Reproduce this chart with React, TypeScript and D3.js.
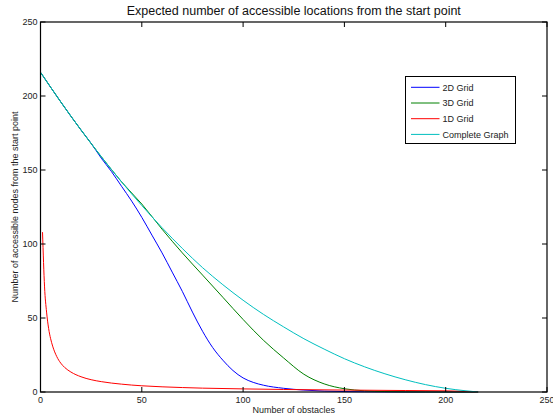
import { useEffect, useRef } from 'react';
import * as d3 from 'd3';

// values
const gridX2D = [0, 10, 20, 25, 30, 35, 40, 45, 50, 55, 60, 65, 70, 75, 80, 85, 90, 95, 100, 105, 110, 120, 130, 140, 150, 160, 170, 190, 216];
const gridY2D = [216, 196, 177, 168, 158, 149, 139, 129, 118, 106, 94, 81, 68, 54, 41, 30, 21.5, 14.5, 9.5, 6.5, 4.6, 2.5, 1.3, 0.6, 0.3, 0.15, 0.05, 0, 0];

const gridX3D = [0, 10, 20, 30, 40, 50, 60, 70, 80, 90, 100, 110, 120, 130, 140, 150, 160, 170, 180, 200, 216];
const gridY3D = [216, 196, 177, 159, 142, 127, 110, 94, 79, 64, 49, 35, 23, 12, 5.5, 2.2, 0.8, 0.3, 0.1, 0, 0];

const gridX1D = [1, 2, 3, 4, 5, 6, 8, 10, 12, 15, 20, 25, 30, 40, 50, 60, 70, 80, 100, 120, 150, 180, 200, 216];
const gridY1D = [108, 71, 54, 43, 36, 31, 24, 19.5, 16.5, 13.5, 10.3, 8.3, 7, 5.3, 4.2, 3.5, 3, 2.6, 2.1, 1.7, 1.3, 1, 0.8, 0];

const completeX = [0, 10, 20, 30, 40, 50, 60, 70, 80, 90, 100, 110, 120, 130, 140, 150, 160, 170, 180, 190, 200, 210, 216];
const completeY = [216, 196, 177, 159, 142, 126, 111, 97, 84, 72.5, 62, 52.5, 44, 36, 29, 22.5, 17, 12.3, 8.3, 5, 2.5, 0.8, 0];

const seriesNames = ['2D Grid', '3D Grid', '1D Grid', 'Complete Graph'];
const seriesColors = ['#0000ff', '#008000', '#ff0000', '#00bfbf'];
const xTicks = [0, 50, 100, 150, 200, 250];
const yTicks = [0, 50, 100, 150, 200, 250];

const App = () => {
	const ref = useRef<SVGSVGElement>(null);

	useEffect(() => {
		const svg = d3.select(ref.current);
		svg.selectAll('*').remove();

		const left = 40.5, right = 547, top = 22, bottom = 392;
		const x = d3.scaleLinear().domain([0, 250]).range([left, right]);
		const y = d3.scaleLinear().domain([0, 250]).range([bottom, top]);
		const font = '"Liberation Sans", Arial, sans-serif';

		svg.append('rect').attr('width', 553).attr('height', 419).attr('fill', '#fff');

		const series = [
			[gridX2D, gridY2D],
			[gridX3D, gridY3D],
			[gridX1D, gridY1D],
			[completeX, completeY],
		];

		const line = d3
			.line<[number, number]>()
			.x((d) => x(d[0]))
			.y((d) => y(d[1]))
			.curve(d3.curveMonotoneX);

		// curves
		series.forEach(([xs, ys], i) => {
			const pts = xs.map((v, j) => [v, ys[j]] as [number, number]);
			svg
				.append('path')
				.attr('d', line(pts))
				.attr('fill', 'none')
				.attr('stroke', seriesColors[i])
				.attr('stroke-width', 1);
		});

		// box + ticks
		svg
			.append('rect')
			.attr('x', left)
			.attr('y', top)
			.attr('width', right - left)
			.attr('height', bottom - top)
			.attr('fill', 'none')
			.attr('stroke', '#000')
			.attr('stroke-width', 1.2);

		const tickLen = 5;
		xTicks.forEach((t) => {
			svg.append('line').attr('x1', x(t)).attr('x2', x(t)).attr('y1', bottom).attr('y2', bottom - tickLen).attr('stroke', '#000');
			svg.append('line').attr('x1', x(t)).attr('x2', x(t)).attr('y1', top).attr('y2', top + tickLen).attr('stroke', '#000');
			svg
				.append('text')
				.attr('x', x(t))
				.attr('y', bottom + 11)
				.attr('text-anchor', 'middle')
				.style('font-family', font)
				.style('font-size', '9px')
				.attr('fill', '#222')
				.text(t);
		});
		yTicks.forEach((t) => {
			svg.append('line').attr('x1', left).attr('x2', left + tickLen).attr('y1', y(t)).attr('y2', y(t)).attr('stroke', '#000');
			svg.append('line').attr('x1', right).attr('x2', right - tickLen).attr('y1', y(t)).attr('y2', y(t)).attr('stroke', '#000');
			svg
				.append('text')
				.attr('x', left - 3)
				.attr('y', y(t) + 3)
				.attr('text-anchor', 'end')
				.style('font-family', font)
				.style('font-size', '9px')
				.attr('fill', '#222')
				.text(t);
		});

		// title and labels
		svg
			.append('text')
			.attr('x', (left + right) / 2)
			.attr('y', 15)
			.attr('text-anchor', 'middle')
			.style('font-family', font)
			.style('font-size', '12.5px')
			.attr('fill', '#111')
			.text('Expected number of accessible locations from the start point');

		svg
			.append('text')
			.attr('x', (left + right) / 2)
			.attr('y', 413)
			.attr('text-anchor', 'middle')
			.style('font-family', font)
			.style('font-size', '9px')
			.attr('fill', '#222')
			.text('Number of obstacles');

		svg
			.append('text')
			.attr('transform', `translate(18, ${(top + bottom) / 2}) rotate(-90)`)
			.attr('text-anchor', 'middle')
			.style('font-family', font)
			.style('font-size', '9px')
			.attr('fill', '#222')
			.text('Number of accessible nodes from the start point');

		// legend
		const lg = svg.append('g');
		lg.append('rect')
			.attr('x', 405.5)
			.attr('y', 76.5)
			.attr('width', 110)
			.attr('height', 67)
			.attr('fill', '#fff')
			.attr('stroke', '#000')
			.attr('stroke-width', 1);
		seriesNames.forEach((name, i) => {
			const ly = 87.3 + i * 15.7;
			lg.append('line')
				.attr('x1', 411)
				.attr('x2', 439.5)
				.attr('y1', ly)
				.attr('y2', ly)
				.attr('stroke', seriesColors[i])
				.attr('stroke-width', 1);
			lg.append('text')
				.attr('x', 442.5)
				.attr('y', ly + 3.2)
				.style('font-family', font)
				.style('font-size', '9px')
				.attr('fill', '#222')
				.text(name);
		});
	}, []);

	return (
		<svg ref={ref} width={553} height={419} style={{ position: 'absolute', left: 0, top: 0 }}></svg>
	);
};

export default App;
